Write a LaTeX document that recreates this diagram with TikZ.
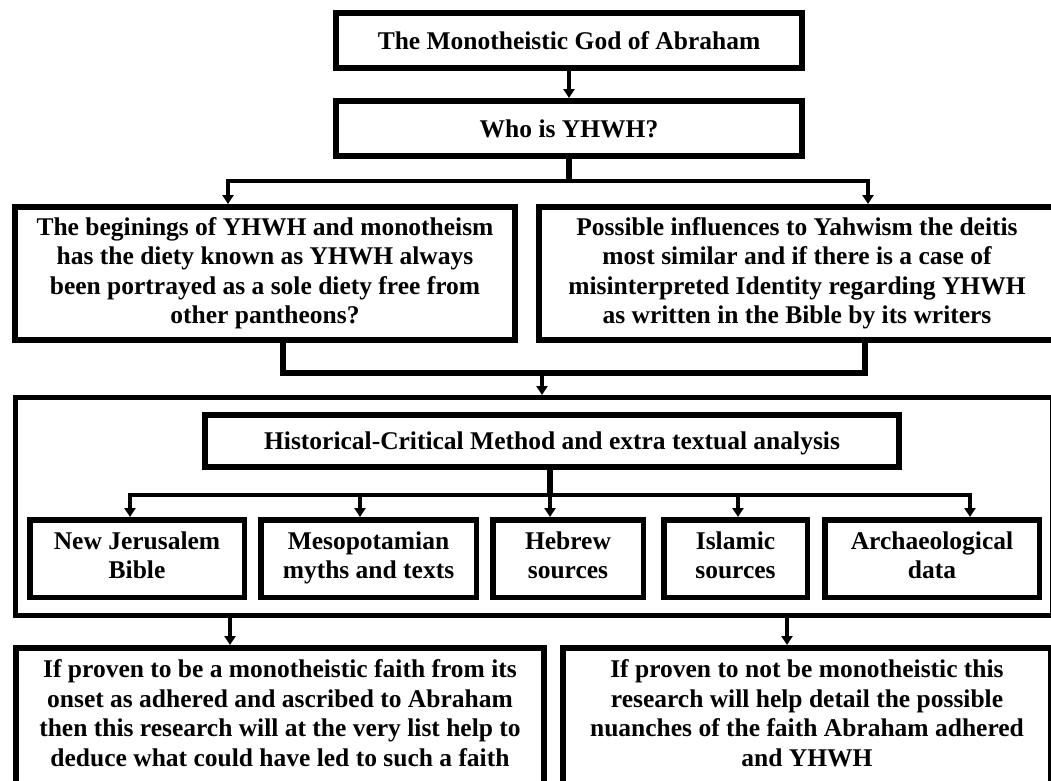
\documentclass[tikz,border=0pt]{standalone}
\usepackage{fontspec}
\setmainfont{Liberation Serif}
\usepackage{tikz}
\usetikzlibrary{arrows,arrows.meta,shapes}
\newcommand\boxstrut{\rule[-6.25pt]{0pt}{29.5pt}}
\tikzstyle{block}=[rectangle, draw
,line width=6pt
,inner sep=0pt
,align=center
,font=\bfseries\fontsize{25.5}{29.5}\selectfont
,execute at begin node=\boxstrut
,execute at end node=\boxstrut
]
\tikzstyle{frame} = [rectangle,draw,line width=5pt,inner sep=0pt]
\tikzstyle{edge} = [draw,line width=3.5pt,-{Triangle[length=9pt,width=11pt]}]
\tikzstyle{stem} = [draw,line width=6pt,line join=miter]

\begin{document}
\begin{tikzpicture}[x=1pt,y=-1pt]
    \useasboundingbox (0,0) rectangle (1051,780);
    % Top of the chart
    \node[block, minimum width=466pt, minimum height=55pt] (god) at (569,40.5) {The Monotheistic God of Abraham};
    \node[block, minimum width=466pt, minimum height=55pt] (who) at (569,128.5) {Who is YHWH?};
    \node[block, minimum width=500pt, minimum height=133pt] (begin) at (265,273.5)
        {The beginings of YHWH and monotheism\\has the diety known as YHWH always\\been portrayed as a sole diety free from\\other pantheons?};
    \node[block, minimum width=516pt, minimum height=133pt] (influence) at (797,273.5)
        {Possible influences to Yahwism the deitis\\most similar and if there is a case of\\misinterpreted Identity regarding YHWH\\as written in the Bible by its writers};

    % The method frame and its sources
    \node[frame, minimum width=1036.5pt, minimum height=218pt] (method) at (533.75,506.5) {};
    \node[block, minimum width=694pt, minimum height=52pt] (hcm) at (552,441) {Historical-Critical Method and extra textual analysis};
    \foreach \x/\w/\name/\txt in {137/214.5/njb/{New Jerusalem\\Bible}, 368.5/215.5/meso/{Mesopotamian\\myths and texts}, 568/150.5/heb/{Hebrew\\sources}, 735.5/143.5/isl/{Islamic\\sources}, 932/214.5/arch/{Archaeological\\data}}
        \node[block, line width=5.5pt, minimum width=\w pt, minimum height=77.5pt] (\name) at (\x,558.5) {\txt};

    % Outcomes
    \node[block, minimum width=528pt, minimum height=136pt] (mono) at (280,716)
        {If proven to be a monotheistic faith from its\\onset as adhered and ascribed to Abraham\\then this research will at the very list help to\\deduce what could have led to such a faith};
    \node[block, minimum width=488pt, minimum height=136pt] (notmono) at (807,716)
        {If proven to not be monotheistic this\\research will help detail the possible\\nuanches of the faith Abraham adhered\\and YHWH};

    % Connect boxes
    \path[edge] (god) -- (who);
    \coordinate (split) at (569,181);
    \coordinate (sl) at (228,181);
    \coordinate (sr) at (868,181);
    \path[stem] (who.south) -- (split);
    \path[edge] (split) -| (begin.north -| sl);
    \path[edge] (split) -| (influence.north -| sr);

    \coordinate (ml) at (283,373);
    \coordinate (mr) at (865,373);
    \coordinate (mc) at (542,373);
    \path[stem] (begin.south -| ml) -- (ml) -- (mr) -- (influence.south -| mr);
    \path[edge] (mc) -- (method.north -| mc);

    \coordinate (hs) at (550,495);
    \path[stem] (hcm.south -| hs) -- (hs);
    \foreach \name/\x in {njb/130, meso/360, heb/550, isl/738, arch/970}
    {
        \coordinate (bar-\name) at (\x,495);
        \path[edge] (hs) -| (\name.north -| bar-\name);
    }

    \coordinate (dl) at (230,618);
    \coordinate (dr) at (787,618);
    \path[edge] (dl) -- (mono.north -| dl);
    \path[edge] (dr) -- (notmono.north -| dr);
\end{tikzpicture}
\end{document}
